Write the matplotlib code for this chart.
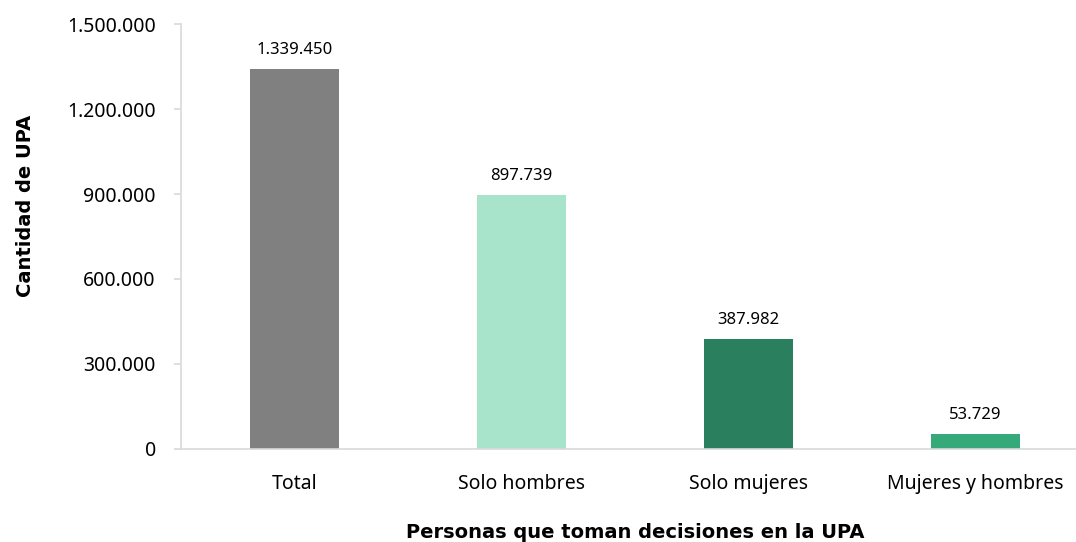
import matplotlib
matplotlib.use("Agg")
import matplotlib.pyplot as plt
from matplotlib.ticker import FuncFormatter

categories = ["Total", "Solo hombres", "Solo mujeres", "Mujeres y hombres"]
values = [1339450, 897739, 387982, 53729]
bar_colors = ["#808080", "#A8E4CC", "#2A7F5F", "#36A97A"]
yticks = [0, 300000, 600000, 900000, 1200000, 1500000]


def miles(v, pos=None):
    return f"{int(v):,}".replace(",", ".")


plt.rcParams["font.family"] = ["Noto Sans", "DejaVu Sans"]

fig = plt.figure(figsize=(10.76, 5.42), dpi=100)
ax = fig.add_axes([0.168, 0.1716, 0.844, 0.7841])

x = range(len(categories))
bars = ax.bar(x, values, width=0.39, color=bar_colors, zorder=2)

for b, v in zip(bars, values):
    ax.annotate(miles(v), (b.get_x() + b.get_width() / 2, b.get_height()),
                xytext=(0, 8), textcoords="offset points",
                ha="center", va="bottom", fontsize=12, color="#000000")

ax.set_xlim(-0.5, 3.5)
ax.set_ylim(0, 1500000)
ax.set_yticks(yticks)
ax.yaxis.set_major_formatter(FuncFormatter(miles))
ax.set_xticks(list(x))
ax.set_xticklabels(categories)

ax.spines["top"].set_visible(False)
ax.spines["right"].set_visible(False)
ax.spines["left"].set_color("#D9D9D9")
ax.spines["bottom"].set_color("#D9D9D9")
ax.spines["left"].set_linewidth(1.2)
ax.spines["bottom"].set_linewidth(1.2)
ax.tick_params(axis="y", colors="#D9D9D9", labelcolor="#000000", labelsize=14, length=5, width=1.2, pad=13)
ax.tick_params(axis="x", length=0, labelsize=14, labelcolor="#000000", pad=18)

ax.set_xlabel("Personas que toman decisiones en la UPA", fontsize=14, fontweight="bold",
              family="DejaVu Sans", labelpad=21)
ax.set_ylabel("Cantidad de UPA", fontsize=14, fontweight="bold", family="DejaVu Sans")
# in the original the y title sits a bit above the middle of the axis
ax.yaxis.set_label_coords(-0.161, 0.572)

fig.savefig("out.png", dpi=100)
